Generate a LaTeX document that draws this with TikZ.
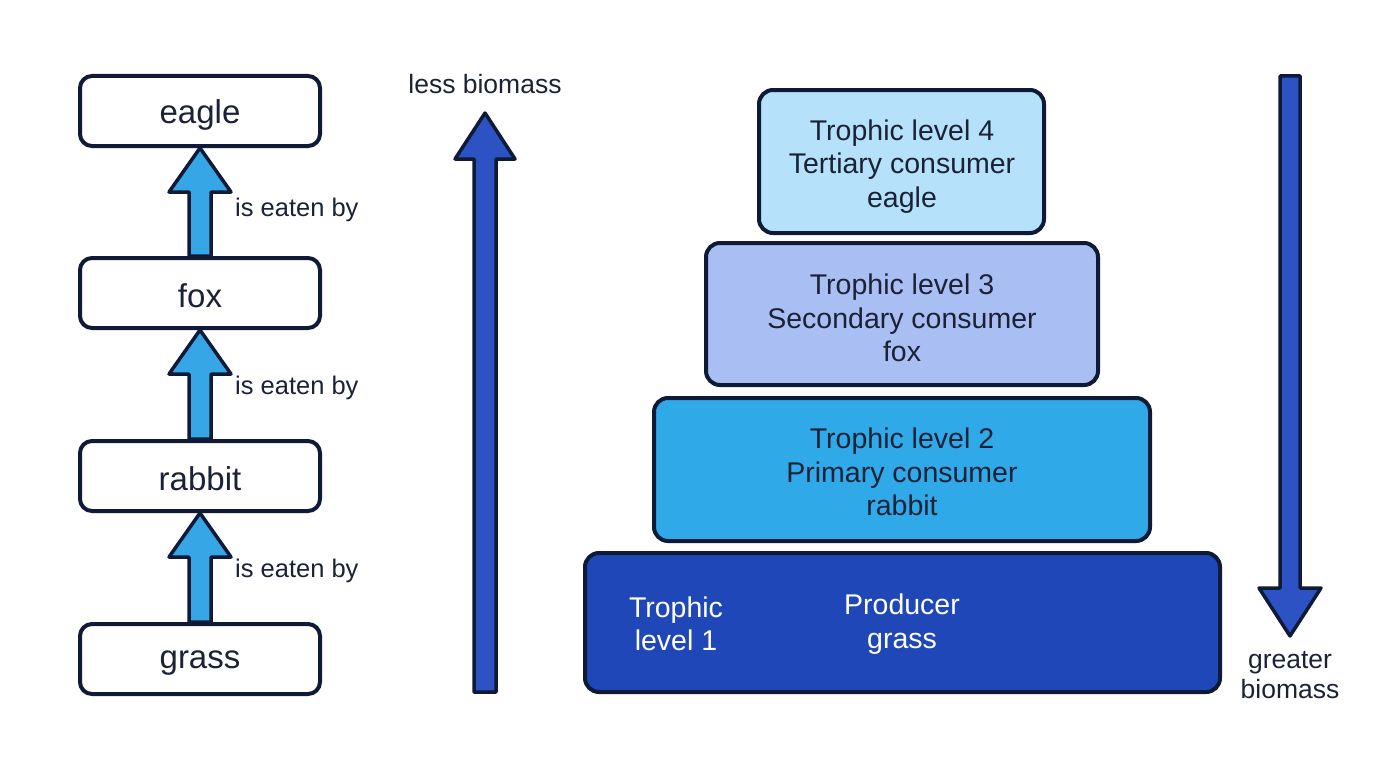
\documentclass[tikz,border=0pt]{standalone}
\usepackage{fontspec}
\setmainfont{Liberation Sans}
\usetikzlibrary{calc,backgrounds}
\definecolor{navy}{HTML}{0E1A36}
\definecolor{txt}{HTML}{1B2236}
\definecolor{lvfour}{HTML}{B5E2FA}
\definecolor{lvthree}{HTML}{A9BEF2}
\definecolor{lvtwo}{HTML}{30A9E9}
\definecolor{lvone}{HTML}{1F47B7}
\definecolor{arrowlight}{HTML}{36A6E6}
\definecolor{arrowdark}{HTML}{2D52C4}
\newcommand\blockarrow[6]{% base, tip, shaft half, head half, head length, fill
  \path[draw=navy,line width=3.5pt,line join=round,fill=#6]
    ($(#1)+(-#3,0)$) -- ($(#2)+(-#3,#5)$) -- ($(#2)+(-#4,#5)$) -- (#2)
    -- ($(#2)+(#4,#5)$) -- ($(#2)+(#3,#5)$) -- ($(#1)+(#3,0)$) -- cycle;}
\begin{document}
\begin{tikzpicture}[x=1pt,y=-1pt,
  chainbox/.style={draw=navy,line width=4pt,rounded corners=12pt,fill=white,
    minimum width=240pt,minimum height=70pt,inner sep=0pt},
  chaintext/.style={text=txt,inner sep=0pt,font=\fontsize{33}{38}\selectfont},
  eatlabel/.style={anchor=west,text=txt,font=\fontsize{25.5}{29}\selectfont,inner sep=0pt},
  level/.style={draw=navy,line width=4pt,rounded corners=14pt,inner sep=0pt},
  leveltext/.style={align=center,inner sep=0pt,text=txt,font=\fontsize{28.5}{33.5}\selectfont},
  biolabel/.style={text=txt,font=\fontsize{26.5}{30}\selectfont,align=center,inner sep=0pt}]
\useasboundingbox (0,0) rectangle (1376,768);
% left food chain
\node[chainbox] (eagle) at (200,111) {};
\node[chainbox] (fox) at (200,293) {};
\node[chainbox] (rabbit) at (200,476) {};
\node[chainbox] (grass) at (200,659) {};
\node[chaintext] (eagleT) at ($(eagle)+(0,4)$) {eagle};
\node[chaintext] (foxT) at ($(fox)+(0,3)$) {fox};
\node[chaintext] (rabbitT) at ($(rabbit)+(0,3)$) {rabbit};
\node[chaintext] (grassT) at ($(grass)+(0,4)$) {grass};
\begin{scope}[on background layer]
\blockarrow{fox.north}{eagle.south}{11}{31}{44}{arrowlight}
\blockarrow{rabbit.north}{fox.south}{11}{31}{44}{arrowlight}
\blockarrow{grass.north}{rabbit.south}{11}{31}{44}{arrowlight}
\end{scope}
\node[eatlabel] (l1) at (235,210) {is eaten by};
\node[eatlabel] (l2) at (235,388) {is eaten by};
\node[eatlabel] (l3) at (235,571) {is eaten by};
% big up arrow
\coordinate (ubot) at (485,692);
\coordinate (utip) at (485,113);
\blockarrow{ubot}{utip}{11}{30}{46}{arrowdark}
\node[biolabel] (less) at (485,84) {less biomass};
% pyramid
\node[level,fill=lvfour,minimum width=285pt,minimum height=143pt] (t4) at (901.5,161.5) {};
\node[leveltext] (t4T) at (902,166.5) {Trophic level 4\\Tertiary consumer\\eagle};
\node[level,fill=lvthree,minimum width=392pt,minimum height=142pt] (t3) at (902,314) {};
\node[leveltext] (t3T) at (902,318) {Trophic level 3\\Secondary consumer\\fox};
\node[level,fill=lvtwo,minimum width=496pt,minimum height=143pt] (t2) at (902,469.5) {};
\node[leveltext] (t2T) at (902,472) {Trophic level 2\\Primary consumer\\rabbit};
\node[level,fill=lvone,minimum width=635pt,minimum height=139pt] (t1) at (902.5,622.5) {};
\node[leveltext,text=white] (t1a) at (676,624) {Trophic\\level 1};
\node[leveltext,text=white] (t1b) at (902,624) {Producer\\grass};
% down arrow
\coordinate (dtop) at (1290,76);
\coordinate (dtip) at (1290,636);
\blockarrow{dtop}{dtip}{10}{31}{-48}{arrowdark}
\node[biolabel] (greater) at (1290,675) {greater\\biomass};
\end{tikzpicture}
\end{document}
